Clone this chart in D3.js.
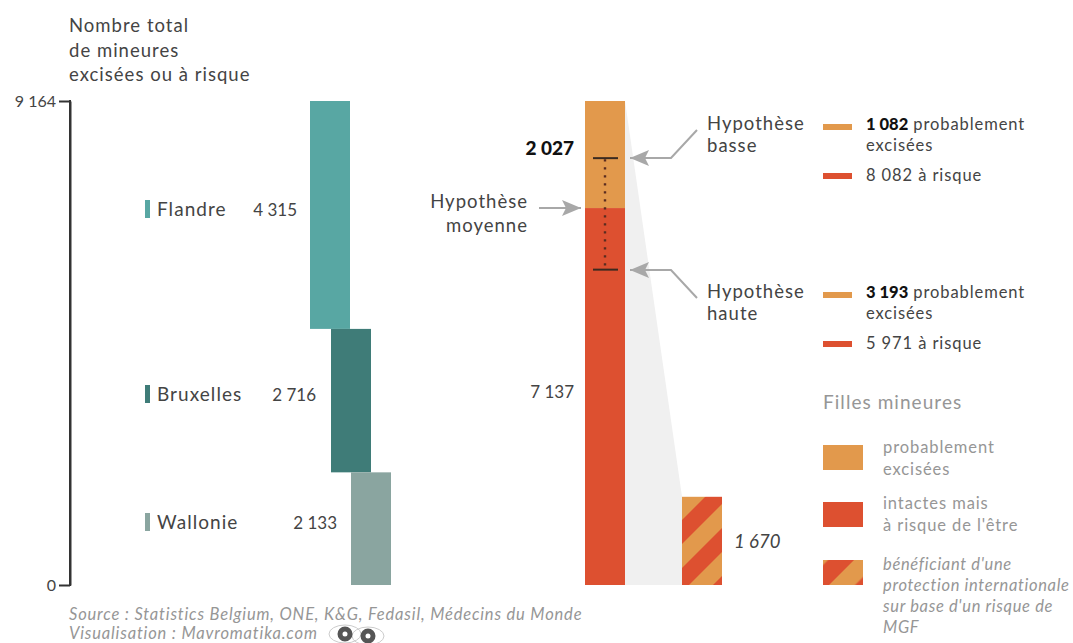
<!DOCTYPE html>
<html><head><meta charset="utf-8">
<script src="https://cdn.jsdelivr.net/npm/d3@7"></script>
<style>html,body{margin:0;padding:0;background:#fff}svg{display:block}text{font-family:Lato,"Open Sans",sans-serif}</style>
</head><body><svg id="c" width="1073" height="643"></svg>
<script>
const axisMax = 9164;
const axisTicks = [0, 9164];
const tickLabels = ["0", "9 164"];
const axisTitle = ["Nombre total", "de mineures", "excisées ou à risque"];
const regions = ["Flandre", "Bruxelles", "Wallonie"];
const regionValues = [4315, 2716, 2133];
const regionLabels = ["4 315", "2 716", "2 133"];
const regionColors = ["#58a7a3", "#3f7c78", "#8aa5a0"];
const stackNames = ["excisées", "à risque"];
const stackValues = [2027, 7137];
const stackLabels = ["2 027", "7 137"];
const stackColors = ["#e2994c", "#dd5030"];
const protectedValue = 1670;
const protectedLabel = "1 670";
const lowExcised = 1082, highExcised = 3193;
const hypotheses = [
  {name:["Hypothèse","basse"], ex:"1 082", risk:"8 082 à risque"},
  {name:["Hypothèse","haute"], ex:"3 193", risk:"5 971 à risque"}
];
const legendTitle = "Filles mineures";
const legendLabels = [["probablement","excisées"],["intactes mais","à risque de l'être"],["bénéficiant d'une","protection internationale","sur base d'un risque de","MGF"]];
const sourceLines = ["Source : Statistics Belgium, ONE, K&G, Fedasil, Médecins du Monde","Visualisation : Mavromatika.com"];

const svg = d3.select("#c");
const y = d3.scaleLinear().domain([0, axisMax]).range([585, 101]);
const ink = "#444", grey = "#969696", arrowC = "#a8a8a8";
const defs = svg.append("defs");
function hatch(id, tx, ty, period){
  const p = defs.append("pattern").attr("id",id).attr("patternUnits","userSpaceOnUse")
    .attr("width",period).attr("height",period).attr("patternTransform",`translate(${tx} ${ty}) rotate(45)`);
  p.append("rect").attr("width",period).attr("height",period).attr("fill",stackColors[1]);
  p.append("rect").attr("width",period/2).attr("height",period).attr("fill",stackColors[0]);
}
hatch("hatch", 681, 497, 33.94);
hatch("hatch2", 802, 560, 36.8);
const mk = defs.append("marker").attr("id","arr").attr("viewBox","0 0 19 16").attr("refX",19).attr("refY",8)
  .attr("markerUnits","userSpaceOnUse").attr("markerWidth",19).attr("markerHeight",16).attr("orient","auto");
mk.append("path").attr("d","M0,0L19,8L0,16L4,8Z").attr("fill",arrowC);

function txt(x, yy, s, o={}){
  return svg.append("text").attr("x",x).attr("y",yy).text(s)
    .attr("font-size",o.size||18.5).attr("fill",o.fill||ink)
    .attr("text-anchor",o.anchor||"start").attr("font-weight",o.weight||400)
    .attr("letter-spacing",o.ls===undefined?"0.055em":o.ls)
    .attr("font-style",o.italic?"italic":"normal");
}
// axis
const ax = svg.append("g").attr("transform","translate(70,0)")
  .call(d3.axisLeft(y).tickValues(axisTicks).tickFormat((d,i)=>tickLabels[i]).tickSize(11).tickSizeOuter(0));
ax.select(".domain").attr("stroke","#333").attr("stroke-width",2);
ax.selectAll(".tick line").attr("stroke","#333").attr("stroke-width",2).attr("x1",0).attr("x2",-11);
ax.selectAll(".tick text").attr("font-size",16).attr("fill",ink).attr("x",-14).attr("font-family","Lato");
ax.append("path").attr("d",`M0,${y(axisMax)-1}V${y(0)+1}`).attr("stroke","#333").attr("stroke-width",2);
axisTitle.forEach((s,i)=>txt(69,32+i*24.5,s,{size:18.5}));

// region bars
const regionX = [310, 331, 351];
const regionLabelRight = [297, 316, 337];
const regionLabelY = [216, 401, 529];
let cum = axisMax;
regions.forEach((r,i)=>{
  const top = cum, bot = cum - regionValues[i]; cum = bot;
  svg.append("rect").attr("x",regionX[i]).attr("width",40).attr("y",y(top)).attr("height",y(bot)-y(top)).attr("fill",regionColors[i]);
  svg.append("rect").attr("x",145).attr("width",5).attr("y",regionLabelY[i]-16).attr("height",18).attr("fill",regionColors[i]);
  txt(157,regionLabelY[i],r,{size:19});
  txt(regionLabelRight[i],regionLabelY[i],regionLabels[i],{size:17,anchor:"end",ls:0});
});

// funnel
const stackX = 585, protX = 682, bw = 40;
svg.append("path").attr("fill","#f0f0f0")
  .attr("d",d3.line()([[stackX+bw,y(axisMax)],[protX,y(protectedValue)],[protX,y(0)],[stackX+bw,y(0)]])+"Z");
// stacked bar
svg.append("rect").attr("x",stackX).attr("width",bw).attr("y",y(axisMax)).attr("height",y(axisMax-stackValues[0])-y(axisMax)).attr("fill",stackColors[0]);
svg.append("rect").attr("x",stackX).attr("width",bw).attr("y",y(stackValues[1])).attr("height",y(0)-y(stackValues[1])).attr("fill",stackColors[1]);
svg.append("rect").attr("x",protX).attr("width",bw).attr("y",y(protectedValue)).attr("height",y(0)-y(protectedValue)).attr("fill","url(#hatch)");

// range markers
const yLow = y(axisMax-lowExcised), yHigh = y(axisMax-highExcised);
svg.append("line").attr("x1",605).attr("x2",605).attr("y1",yLow+1).attr("y2",yHigh).attr("stroke","#5a2c20").attr("stroke-width",2.4).attr("stroke-dasharray","2.4 5.6");
[yLow,yHigh].forEach(v=>svg.append("line").attr("x1",593).attr("x2",618).attr("y1",v).attr("y2",v).attr("stroke","#3a2a20").attr("stroke-width",2));

// arrows
const arrow = d => svg.append("path").attr("d",d).attr("fill","none").attr("stroke",arrowC).attr("stroke-width",2).attr("marker-end","url(#arr)");
arrow(`M697,130L671,158H630`);
arrow(`M697,298L671,270H630`);
arrow(`M539,208H581`);

// labels
txt(574,155,stackLabels[0],{anchor:"end",weight:900,size:19,fill:"#111",ls:0});
txt(574,398,stackLabels[1],{anchor:"end",size:17,ls:0});
txt(528,208,"Hypothèse",{anchor:"end",size:18.5});
txt(528,232,"moyenne",{anchor:"end",size:18.5});
txt(734,548,protectedLabel,{italic:true,size:18.5,ls:0});

// hypotheses
const hypoY = [130, 298];
hypotheses.forEach((h,i)=>{
  const b = hypoY[i];
  txt(707,b,h.name[0],{size:18.5}); txt(707,b+22,h.name[1],{size:18.5});
  svg.append("rect").attr("x",823).attr("y",b-6).attr("width",29).attr("height",6).attr("fill",stackColors[0]);
  const t = txt(866,b,"",{size:16.5});
  t.append("tspan").attr("font-weight",900).attr("fill","#111").attr("letter-spacing",0).text(h.ex);
  t.append("tspan").text(" probablement");
  txt(866,b+21,"excisées",{size:16.5});
  svg.append("rect").attr("x",823).attr("y",b+43).attr("width",29).attr("height",6).attr("fill",stackColors[1]);
  txt(866,b+51,h.risk,{size:16.5});
});

// legend
txt(823,409,legendTitle,{size:19,fill:grey});
const legY = [445,502,560], legLine=[[453,475],[509,531],[570,591,612,633]];
[stackColors[0],stackColors[1],"url(#hatch2)"].forEach((c,i)=>{
  svg.append("rect").attr("x",823).attr("y",legY[i]).attr("width",40).attr("height",25).attr("fill",c);
  legendLabels[i].forEach((s,j)=>txt(883,legLine[i][j],s,{size:16.5,fill:grey,italic:i===2,ls:i===2?"0.04em":undefined}));
});

// source
const sourceY = [620, 639];
sourceLines.forEach((s,i)=>txt(69,sourceY[i],s,{size:16.5,fill:grey,italic:true,ls:"0.05em"}));
// eyes icon
[[345,634],[368,636]].forEach(([cx,cy])=>{
  svg.append("ellipse").attr("cx",cx).attr("cy",cy).attr("rx",16).attr("ry",9).attr("fill","none").attr("stroke","#ccc");
});
[[345,634],[368,636]].forEach(([cx,cy])=>{
  svg.append("circle").attr("cx",cx).attr("cy",cy).attr("r",5).attr("fill","#fff").attr("stroke","#555").attr("stroke-width",5);
});
</script></body></html>
